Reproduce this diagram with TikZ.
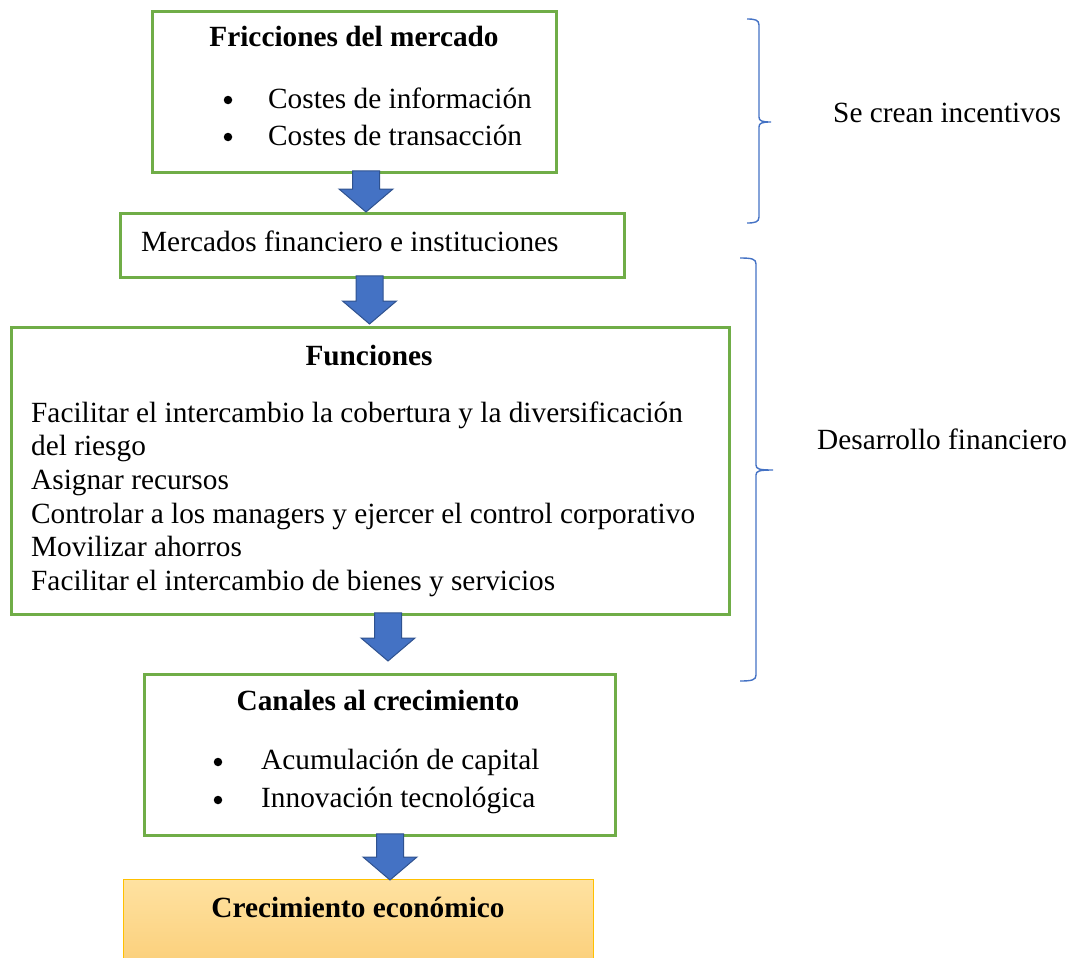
\documentclass[tikz,border=0pt]{standalone}
\usepackage{fontspec}
\setmainfont{Liberation Serif}
\usepackage{xcolor}
\usetikzlibrary{positioning,calc}

\definecolor{boxgreen}{HTML}{70AD47}
\definecolor{arrowblue}{HTML}{4472C4}
\definecolor{arrowedge}{HTML}{2F528F}
\definecolor{goldtop}{HTML}{FFE2A1}
\definecolor{goldbot}{HTML}{FBD07C}
\definecolor{goldedge}{HTML}{FFC000}

% block arrow: x centre, from node, to node, gap above target
\newcommand{\blockdown}[4]{%
  \draw [blockarrow] let \p1=(#2.south), \p2=(#3.north) in
    (#1pt-13.5pt,\y1+3pt) -- (#1pt+13.5pt,\y1+3pt) -- (#1pt+13.5pt,\y2+#4pt+23pt)
    -- (#1pt+27pt,\y2+#4pt+23pt) -- (#1pt,\y2+#4pt) -- (#1pt-27pt,\y2+#4pt+23pt)
    -- (#1pt-13.5pt,\y2+#4pt+23pt) -- cycle;}

% right brace: x hook, x line, x tip, y top, y mid, y bottom
\newcommand{\sidebrace}[6]{%
  \draw [bracket] (#1,#4) .. controls (#2-4,#4) and (#2,#4+1) .. (#2,#4+6)
    -- (#2,#5-5) .. controls (#2,#5-1) and (#2+3,#5) .. (#3,#5)
    .. controls (#2+3,#5) and (#2,#5+1) .. (#2,#5+5)
    -- (#2,#6-6) .. controls (#2,#6-1) and (#2-4,#6) .. (#1,#6);}

\begin{document}
\begin{tikzpicture}[
    x=1pt, y=-1pt,
    greenbox/.style={draw=boxgreen, line width=2.8pt, rectangle, anchor=north west},
    goldbox/.style={draw=goldedge, line width=0.8pt, rectangle, anchor=north west, top color=goldtop, bottom color=goldbot},
    body/.style={font=\fontsize{29.3}{33.7}\selectfont, inner sep=0pt},
    title/.style={body, font=\fontsize{29.3}{33.7}\selectfont\bfseries, anchor=base},
    item/.style={body, anchor=base west},
    dot/.style={circle, fill=black, inner sep=0pt, minimum size=8.5pt},
    blockarrow/.style={fill=arrowblue, draw=arrowedge, line width=1pt, line join=miter},
    bracket/.style={draw=arrowblue, line width=1.4pt}
]
    \useasboundingbox (0,0) rectangle (1068,958);

    % Draw boxes
    \node (fric) [greenbox, minimum width=404pt, minimum height=161pt] at (151,10) {};
    \node (merc) [greenbox, minimum width=504pt, minimum height=64pt] at (119,212) {};
    \node (func) [greenbox, minimum width=718pt, minimum height=287pt] at (10,326) {};
    \node (canal) [greenbox, minimum width=471pt, minimum height=161pt] at (143,673) {};
    \node (crec) [goldbox, minimum width=470pt, minimum height=82pt] at (123,879) {};

    % Texts
    \node (frictitle) [title] at (354,47) {Fricciones del mercado};
    \node (dot1) [dot] at (228,100) {};
    \node (info) [item] at (268,108) {Costes de información};
    \node (dot2) [dot] at (228,137) {};
    \node (trans) [item] at (268,145) {Costes de transacción};

    \node (merctext) [item] at (141,251) {Mercados financiero e instituciones};

    \node (functitle) [title] at (369,365) {Funciones};
    \node (f1) [item] at (31,422) {Facilitar el intercambio la cobertura y la diversificación};
    \node (f2) [item] at (31,455.7) {del riesgo};
    \node (f3) [item] at (31,489.4) {Asignar recursos};
    \node (f4) [item] at (31,523.1) {Controlar a los managers y ejercer el control corporativo};
    \node (f5) [item] at (31,556.8) {Movilizar ahorros};
    \node (f6) [item] at (31,590.5) {Facilitar el intercambio de bienes y servicios};

    \node (canaltitle) [title] at (378,710) {Canales al crecimiento};
    \node (dot3) [dot] at (218,762) {};
    \node (acum) [item] at (261,769) {Acumulación de capital};
    \node (dot4) [dot] at (218,800) {};
    \node (innov) [item] at (261,807) {Innovación tecnológica};

    \node (crectext) [title] at (358,917) {Crecimiento económico};

    \node (incent) [item] at (833,122) {Se crean incentivos};
    \node (desarr) [item] at (817,449) {Desarrollo financiero};

    % Draw connections
    \blockdown{366}{fric}{merc}{0}
    \blockdown{369.5}{merc}{func}{2}
    \blockdown{388}{func}{canal}{12}
    \blockdown{390}{canal}{crec}{-1}

    % Braces
    \sidebrace{747}{759}{771}{19}{122}{223}
    \sidebrace{740}{756}{773}{258}{470}{681}

\end{tikzpicture}
\end{document}
